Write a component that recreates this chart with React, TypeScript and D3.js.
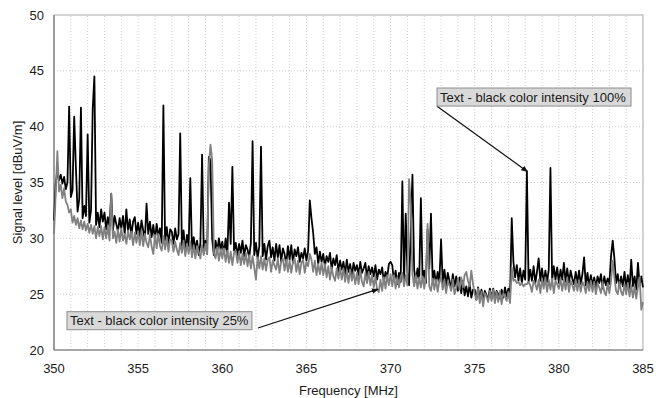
import { FC } from 'react';
import * as d3 from 'd3';

// spectrum sampled every 0.1 MHz from 350.0 to 385.0 MHz, one row per MHz
const freqStart = 350;
const freqStep = 0.1;

const blackLevels = [
    31.6, 34.8, 36.1, 35.2, 35.7, 34.9, 35.5, 34.4, 35.0, 41.8,
    33.7, 34.3, 40.9, 36.4, 32.4, 33.5, 41.7, 31.8, 32.9, 32.0,
    39.3, 31.4, 32.5, 41.6, 44.5, 31.2, 32.3, 31.0, 32.6, 31.5,
    32.3, 30.8, 31.9, 31.1, 34.0, 30.7, 32.0, 31.3, 30.6, 31.8,
    30.9, 32.0, 30.4, 32.6, 30.6, 31.7, 30.3, 31.5, 31.9, 30.4,
    31.4, 30.2, 31.6, 30.7, 29.9, 33.1, 30.4, 31.5, 30.1, 31.2,
    29.9, 31.3, 30.2, 30.9, 29.6, 41.9, 29.8, 31.0, 29.4, 30.8,
    30.6, 29.5, 30.9, 29.9, 30.4, 39.4, 29.3, 30.7, 28.8, 30.3,
    29.3, 35.4, 28.9, 30.1, 29.0, 29.8, 28.5, 29.6, 37.5, 28.7,
    29.8, 28.6, 37.3, 37.0, 29.9, 28.5, 29.8, 28.8, 30.0, 29.0,
    29.7, 28.6, 30.0, 28.5, 33.2, 29.5, 36.4, 28.9, 29.6, 28.4,
    29.5, 28.7, 29.8, 28.4, 29.4, 29.0, 28.3, 29.6, 38.7, 28.5,
    29.6, 28.2, 29.3, 38.2, 28.4, 29.5, 28.1, 29.3, 29.8, 28.3,
    29.2, 28.0, 29.5, 28.3, 29.4, 27.9, 29.1, 28.6, 27.7, 29.3,
    28.1, 29.4, 27.8, 29.0, 28.4, 29.2, 27.9, 28.7, 28.2, 29.1,
    28.0, 28.9, 33.4, 31.8, 30.5, 28.6, 29.2, 27.7, 28.8, 27.9,
    28.6, 27.5, 28.4, 27.9, 28.7, 27.2, 28.2, 27.6, 28.5, 27.0,
    28.0, 27.2, 27.9, 26.8, 28.1, 27.0, 27.7, 26.6, 27.8, 27.1,
    27.6, 26.7, 27.9, 26.9, 27.3, 27.8, 26.5, 27.5, 26.8, 27.4,
    26.6, 27.6, 26.3, 27.2, 26.8, 27.4, 26.1, 27.0, 26.5, 27.7,
    27.9, 27.6, 26.2, 27.1, 25.9, 26.9, 26.1, 35.1, 26.0, 32.2,
    27.0, 25.8, 30.7, 35.7, 27.2, 26.1, 27.3, 26.0, 33.6, 26.4,
    27.1, 26.0, 30.8, 27.3, 32.2, 26.2, 27.1, 25.9, 27.0, 26.1,
    29.9, 26.0, 27.2, 25.8, 26.9, 26.2, 25.5, 26.8, 25.7, 26.6,
    25.3, 26.5, 25.1, 26.2, 24.9, 25.7, 24.8, 25.9, 24.7, 25.4,
    25.4, 24.5, 25.6, 24.6, 25.4, 24.4, 25.3, 24.9, 24.6, 25.5,
    24.6, 25.5, 24.5, 25.3, 25.0, 24.6, 25.4, 24.7, 25.6, 24.8,
    25.5, 24.8, 31.8, 27.9, 26.5, 27.6, 26.2, 27.3, 26.0, 27.1,
    26.3, 36.0, 26.1, 27.2, 26.2, 27.5, 26.0, 27.0, 28.2, 26.2,
    27.3, 26.0, 27.1, 26.1, 27.2, 36.3, 26.2, 27.5, 26.3, 27.4,
    26.0, 27.2, 26.3, 27.8, 26.1, 27.3, 26.0, 27.1, 26.4, 25.9,
    27.0, 26.0, 27.1, 25.9, 26.8, 28.3, 25.8, 26.9, 25.7, 26.7,
    25.8, 26.5, 25.6, 26.6, 26.0, 26.8, 25.5, 26.6, 25.8, 26.4,
    25.9, 28.4, 29.8, 28.2, 26.0, 26.8, 25.6, 26.6, 25.7, 27.0,
    25.6, 26.7, 25.5, 28.1, 25.7, 26.6, 25.4, 27.8, 25.8, 26.6,
    25.6,
];

const grayLevels = [
    30.4, 34.0, 37.8, 34.2, 34.8, 33.6, 34.5, 33.3, 33.0, 32.3,
    32.6, 31.4, 32.0, 31.2, 31.8, 30.9, 31.6, 30.8, 31.5, 30.7,
    31.3, 30.5, 31.2, 30.4, 31.1, 30.0, 31.0, 30.2, 31.1, 29.9,
    31.0, 30.0, 31.1, 29.8, 34.0, 30.0, 30.6, 29.6, 30.8, 29.7,
    30.9, 29.8, 30.4, 29.5, 30.7, 29.9, 30.6, 29.4, 30.5, 29.6,
    30.6, 29.4, 30.7, 29.3, 30.4, 29.6, 29.2, 30.3, 29.3, 28.6,
    30.3, 29.1, 30.4, 29.3, 28.9, 30.2, 29.0, 30.1, 28.8, 29.9,
    29.8, 28.8, 29.7, 29.0, 28.5, 29.6, 28.7, 29.8, 28.4, 29.5,
    28.6, 29.7, 28.3, 29.4, 28.2, 29.3, 28.8, 28.2, 29.4, 28.5,
    29.5, 28.6, 36.5, 38.4, 37.0, 28.7, 28.2, 29.2, 28.0, 29.0,
    28.2, 29.1, 27.9, 28.9, 27.8, 28.8, 27.6, 28.7, 28.9, 27.8,
    28.8, 27.6, 28.6, 27.7, 28.7, 27.5, 28.5, 27.3, 28.4, 27.4,
    26.3, 28.3, 27.3, 28.4, 27.2, 28.2, 27.1, 28.1, 28.3, 27.0,
    28.0, 27.6, 27.2, 28.2, 26.9, 27.9, 28.2, 27.1, 28.1, 27.0,
    28.0, 26.9, 27.9, 28.2, 27.0, 28.0, 26.8, 27.8, 28.1, 26.9,
    27.9, 27.5, 28.6, 28.1, 27.0, 28.0, 26.7, 27.7, 26.8, 27.8,
    26.7, 27.7, 26.5, 27.5, 26.3, 27.4, 26.6, 26.2, 27.3, 26.4,
    27.4, 26.3, 27.3, 26.1, 27.1, 26.0, 27.2, 26.2, 27.0, 25.9,
    26.9, 25.9, 27.2, 26.1, 25.7, 26.9, 26.0, 27.0, 25.8, 26.7,
    25.6, 26.6, 25.4, 25.2, 26.3, 25.3, 26.5, 25.5, 26.7, 25.8,
    26.8, 25.7, 26.7, 25.5, 26.5, 25.6, 26.6, 26.9, 25.7, 26.7,
    25.8, 35.3, 33.0, 26.8, 25.7, 26.7, 25.5, 26.5, 25.6, 26.6,
    25.5, 26.5, 31.3, 25.7, 25.3, 26.4, 25.4, 26.3, 25.2, 26.2,
    26.5, 25.4, 26.3, 25.1, 26.1, 25.8, 25.3, 26.3, 25.0, 25.5,
    26.4, 25.4, 26.5, 25.6, 26.7, 27.0, 26.2, 25.7, 27.1, 25.9,
    25.0, 24.5, 25.5, 24.2, 25.2, 23.9, 25.1, 24.8, 24.3, 25.3,
    24.4, 25.4, 24.2, 25.2, 24.3, 25.3, 24.1, 25.1, 24.8, 24.4,
    25.2, 24.2, 27.4, 26.2, 26.3, 26.0, 26.1, 25.8, 26.0, 25.7,
    25.9, 25.9, 26.1, 25.8, 25.2, 26.2, 25.9, 25.4, 26.3, 25.1,
    26.4, 25.5, 26.5, 25.2, 26.3, 25.4, 26.4, 25.1, 26.2, 25.9,
    25.5, 26.4, 25.3, 26.3, 25.4, 26.5, 25.2, 26.2, 25.8, 25.3,
    26.3, 25.3, 26.2, 25.2, 26.1, 25.8, 25.1, 26.1, 25.3, 26.2,
    25.2, 26.1, 25.0, 26.0, 25.6, 25.1, 26.1, 25.2, 24.9, 26.0,
    25.1, 26.2, 28.0, 26.5, 25.3, 25.0, 26.1, 25.2, 24.9, 25.9,
    25.0, 26.0, 24.8, 25.8, 24.7, 25.7, 24.6, 25.6, 26.5, 23.6,
    24.3,
];

const xTicks = [350, 355, 360, 365, 370, 375, 380, 385];
const yTicks = [20, 25, 30, 35, 40, 45, 50];

// callouts in data units: box corner, arrow start, arrow tip
const calloutLabels = ['Text - black color intensity 100%', 'Text - black color intensity 25%'];
const calloutBoxAt = [[372.76, 43.46], [350.77, 23.43]];
const calloutFrom = [[372.76, 41.83], [362.12, 21.97]];
const calloutTo = [[378.14, 35.97], [369.26, 25.45]];

const W = 668;
const H = 398;
const m = { top: 15, right: 25, bottom: 48, left: 54 };
const font = '"Liberation Sans", Arial, sans-serif';

const App: FC = () => {
    const x = d3.scaleLinear().domain([350, 385]).range([m.left, W - m.right]);
    const y = d3.scaleLinear().domain([20, 50]).range([H - m.bottom, m.top]);

    const line = d3.line<number>()
        .x((_, i) => x(freqStart + i * freqStep))
        .y(d => y(d));

    const minorX = d3.range(351, 385, 1);

    return (
        <svg width={W} height={H} style={{ position: 'absolute', left: 0, top: 0, background: '#fff' }}
             fontFamily={font}>
            <defs>
                <marker id="arrow" viewBox="0 0 10 10" refX="9" refY="5" markerWidth="7" markerHeight="7"
                        orient="auto-start-reverse" markerUnits="userSpaceOnUse">
                    <path d="M0,1 L10,5 L0,9 z" fill="#111" />
                </marker>
            </defs>

            {/* grid */}
            {minorX.map(v => (
                <line key={'gx' + v} x1={x(v)} x2={x(v)} y1={y(20)} y2={y(50)}
                      stroke="#c4c4c4" strokeWidth={0.8} strokeDasharray="1 2" />
            ))}
            {yTicks.slice(1, -1).map(v => (
                <line key={'gy' + v} x1={x(350)} x2={x(385)} y1={y(v)} y2={y(v)}
                      stroke="#c4c4c4" strokeWidth={0.8} strokeDasharray="1 2" />
            ))}

            {/* frame */}
            <rect x={x(350)} y={y(50)} width={x(385) - x(350)} height={y(20) - y(50)}
                  fill="none" stroke="#a8a8a8" strokeWidth={1} />
            <line x1={x(350)} x2={x(350)} y1={y(50)} y2={y(20)} stroke="#7a7a7a" strokeWidth={1.2} />
            <line x1={x(350)} x2={x(385)} y1={y(20)} y2={y(20)} stroke="#7a7a7a" strokeWidth={1.2} />

            {/* series */}
            <path d={line(blackLevels) ?? ''} fill="none" stroke="#000" strokeWidth={1.8} strokeLinejoin="round" />
            <path d={line(grayLevels) ?? ''} fill="none" stroke="#808080" strokeWidth={1.8} strokeLinejoin="round" />

            {/* tick labels */}
            {yTicks.map(v => (
                <text key={'ty' + v} x={m.left - 10} y={y(v)} dy="0.35em" textAnchor="end"
                      fontSize={13} fill="#1a1a1a">{v}</text>
            ))}
            {xTicks.map(v => (
                <text key={'tx' + v} x={x(v)} y={H - m.bottom + 23} textAnchor="middle"
                      fontSize={13} fill="#1a1a1a">{v}</text>
            ))}

            {/* axis titles */}
            <text x={(x(350) + x(385)) / 2} y={H - 3} textAnchor="middle" fontSize={13} fill="#1a1a1a">
                Frequency [MHz]
            </text>
            <text transform={`translate(22, ${(y(20) + y(50)) / 2}) rotate(-90)`} textAnchor="middle"
                  fontSize={13} fill="#1a1a1a">
                Signal level [dBuV/m]
            </text>

            {/* callouts */}
            {calloutLabels.map((label, i) => (
                <g key={'c' + i}>
                    <line x1={x(calloutFrom[i][0])} y1={y(calloutFrom[i][1])}
                          x2={x(calloutTo[i][0])} y2={y(calloutTo[i][1])}
                          stroke="#111" strokeWidth={1.3} markerEnd="url(#arrow)" />
                    <rect x={x(calloutBoxAt[i][0])} y={y(calloutBoxAt[i][1])}
                          width={label.length > 32 ? 194 : 185} height={18}
                          fill="#d9d9d9" stroke="#8c8c8c" strokeWidth={1} />
                    <text x={x(calloutBoxAt[i][0]) + 3} y={y(calloutBoxAt[i][1]) + 13.5}
                          fontSize={13} fill="#1a1a1a">{label}</text>
                </g>
            ))}
        </svg>
    );
};

export default App;
